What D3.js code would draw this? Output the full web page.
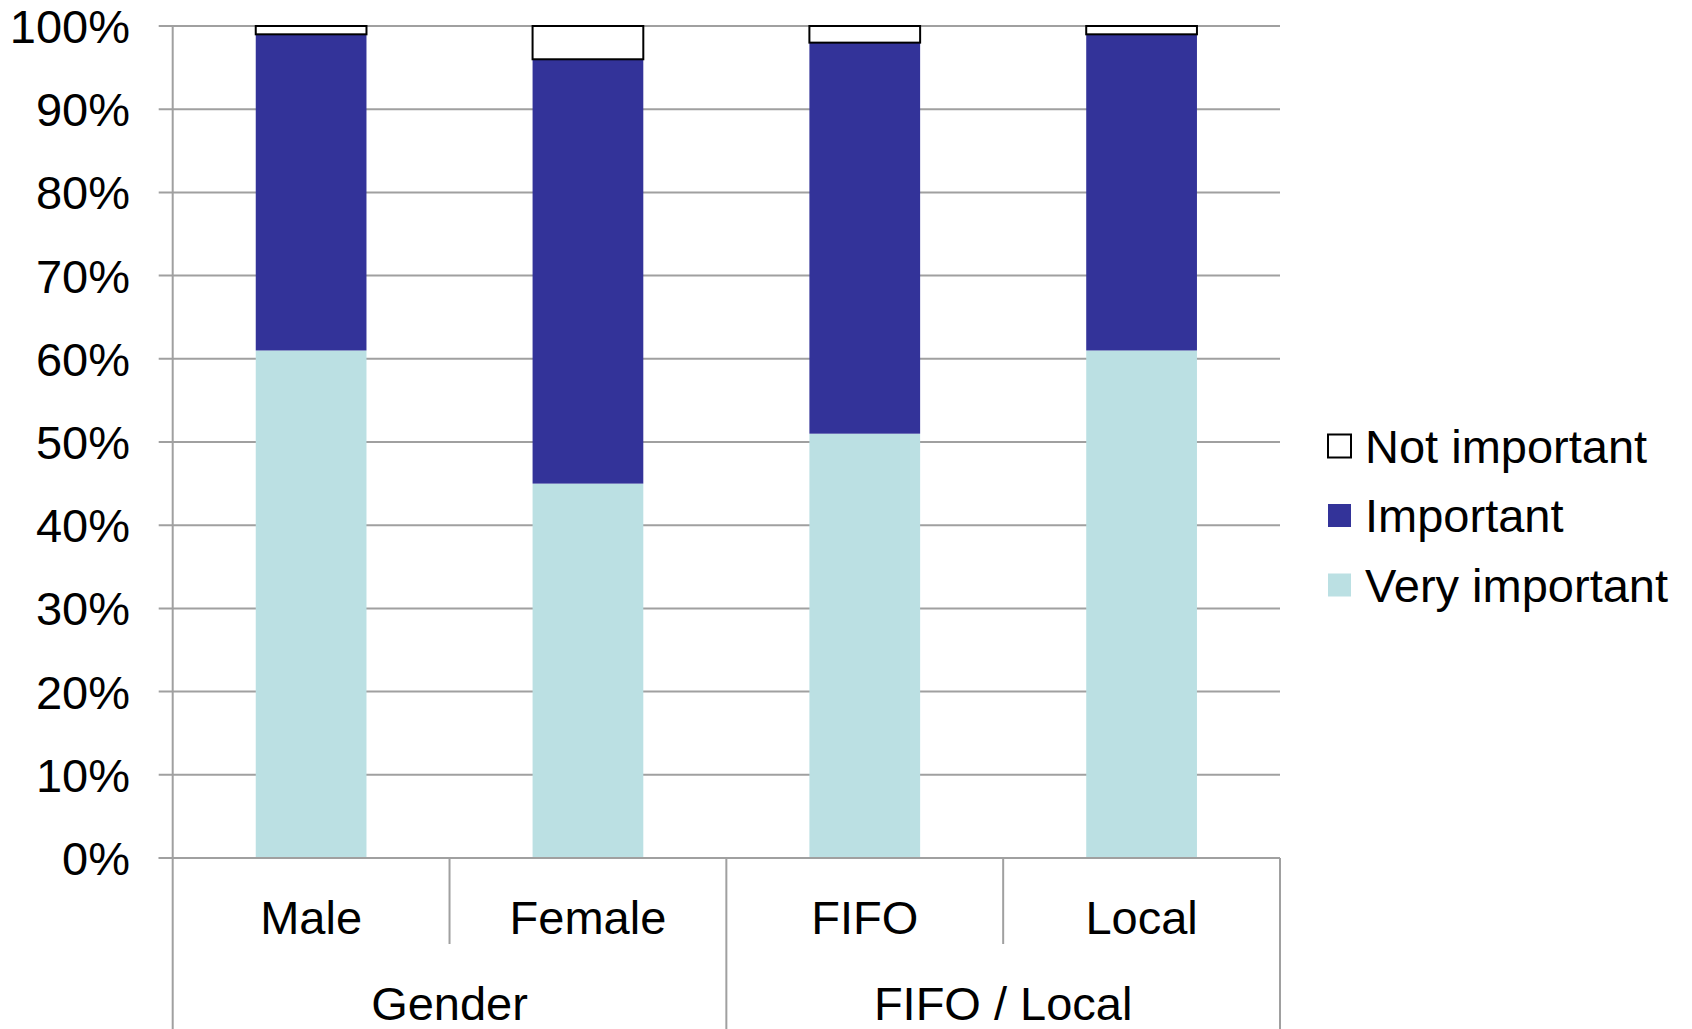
<!DOCTYPE html>
<html><head><meta charset="utf-8">
<script src="https://cdn.jsdelivr.net/npm/d3@7"></script>
<style>body{margin:0;background:#fff;} svg text{font-family:"Liberation Sans",Arial,sans-serif;fill:#000;}</style>
</head><body><svg id="c" width="1692" height="1029"></svg>
<script>
const categories = ["Male", "Female", "FIFO", "Local"];
const groups = [{name: "Gender", members: ["Male", "Female"]}, {name: "FIFO / Local", members: ["FIFO", "Local"]}];
const seriesNames = ["Very important", "Important", "Not important"];
const veryImportant = [61, 45, 51, 61];
const important = [38, 51, 47, 38];
const notImportant = [1, 4, 2, 1];
const yTicks = [0, 10, 20, 30, 40, 50, 60, 70, 80, 90, 100];
const legendOrder = ["Not important", "Important", "Very important"];

const colors = {"Very important": "#bbe0e3", "Important": "#333399", "Not important": "#ffffff"};
const FS = 47;

const svg = d3.select("#c");
const pLeft = 172.7, pRight = 1280, pTop = 26, pBottom = 858;
const x = d3.scaleBand().domain(categories).range([pLeft, pRight]).paddingInner(0).paddingOuter(0);
const y = d3.scaleLinear().domain([0, 100]).range([pBottom, pTop]);

const rows = categories.map((c, i) => ({cat: c, "Very important": veryImportant[i], "Important": important[i], "Not important": notImportant[i]}));
const stacked = d3.stack().keys(seriesNames)(rows);

// gridlines
svg.append("g").selectAll("line").data(yTicks).join("line")
  .attr("x1", pLeft - 14).attr("x2", pRight)
  .attr("y1", d => y(d)).attr("y2", d => y(d))
  .attr("stroke", "#a0a0a0").attr("stroke-width", 2);

// y labels
svg.append("g").selectAll("text").data(yTicks).join("text")
  .attr("x", 130).attr("y", d => y(d)).attr("dy", "0.36em")
  .attr("text-anchor", "end").attr("font-size", FS)
  .text(d => d + "%");

// bars
const barW = x.bandwidth() * 0.4;
stacked.forEach(s => {
  svg.append("g").selectAll("rect").data(s).join("rect")
    .attr("x", d => x(d.data.cat) + (x.bandwidth() - barW) / 2)
    .attr("width", barW)
    .attr("y", d => y(d[1]))
    .attr("height", d => y(d[0]) - y(d[1]))
    .attr("fill", colors[s.key])
    .attr("stroke", s.key === "Not important" ? "#000" : "none")
    .attr("stroke-width", 2);
});

// axis lines
const ax = svg.append("g").attr("stroke", "#a0a0a0").attr("stroke-width", 2);
ax.append("line").attr("x1", pLeft).attr("x2", pLeft).attr("y1", pTop).attr("y2", 1029);
ax.append("line").attr("x1", pLeft - 14).attr("x2", pRight).attr("y1", pBottom).attr("y2", pBottom);
categories.forEach((c, i) => {
  if (i === 0) return;
  const isGroupBoundary = groups.some(g => g.members[0] === c);
  ax.append("line").attr("x1", x(c)).attr("x2", x(c)).attr("y1", pBottom)
    .attr("y2", isGroupBoundary ? 1029 : 944);
});
ax.append("line").attr("x1", pRight).attr("x2", pRight).attr("y1", pBottom).attr("y2", 1029);

// category labels
svg.append("g").selectAll("text").data(categories).join("text")
  .attr("x", d => x(d) + x.bandwidth() / 2).attr("y", 917).attr("dy", "0.36em")
  .attr("text-anchor", "middle").attr("font-size", FS).text(d => d);

// group labels
svg.append("g").selectAll("text").data(groups).join("text")
  .attr("x", g => (x(g.members[0]) + x(g.members[g.members.length - 1]) + x.bandwidth()) / 2)
  .attr("y", 1003).attr("dy", "0.36em")
  .attr("text-anchor", "middle").attr("font-size", FS).text(g => g.name);

// legend
const lg = svg.append("g").attr("transform", "translate(1328,446)");
legendOrder.forEach((k, i) => {
  const row = lg.append("g").attr("transform", `translate(0,${i * 69.5})`);
  row.append("rect").attr("x", 0).attr("y", -11.5).attr("width", 23).attr("height", 23)
    .attr("fill", colors[k]).attr("stroke", k === "Not important" ? "#000" : "none").attr("stroke-width", 2);
  row.append("text").attr("x", 37).attr("y", 0).attr("dy", "0.36em").attr("font-size", FS).text(k);
});
</script></body></html>
